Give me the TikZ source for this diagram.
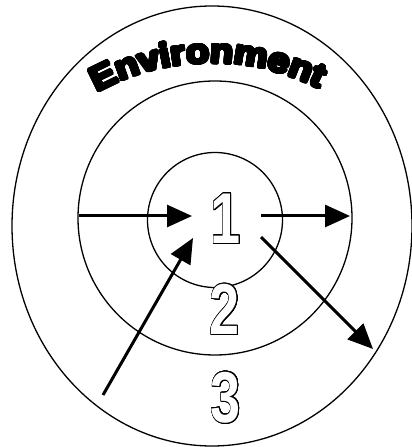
\documentclass[tikz,border=0pt]{standalone}
\usepackage{fontspec}
\usepackage[copies]{contour}
\usetikzlibrary{arrows.meta,decorations.text,shapes.geometric}
\newfontfamily\envfont{Liberation Sans Bold}
\newfontfamily\digfont{Liberation Sans Bold}
\contournumber{32}
\newcommand{\heavychar}[1]{\scalebox{1.12}[1]{\contourlength{1.5pt}\contour{black}{#1}}}
\newcommand{\outdigit}[1]{\scalebox{0.75}[1]{\contourlength{0.8pt}\contour{black}{\textcolor{white}{#1}}}}
\tikzset{
  ring/.style={draw=black, line width=1.3pt},
  flow/.style={line width=3pt, -{Triangle[length=25pt,width=22pt]}},
  digit/.style={inner sep=0pt, font=\digfont\fontsize{72}{72}\selectfont}
}
\begin{document}
\begin{tikzpicture}[x=1pt,y=1pt]
\useasboundingbox (0,0) rectangle (412,447);
\fill[white] (0,0) rectangle (412,447);
% rings
\node[ring, ellipse, minimum width=400pt, minimum height=440pt, inner sep=0pt] (outer) at (212,221) {};
\node[ring, circle, minimum size=274pt, inner sep=0pt] (mid) at (215,229) {};
\node[ring, circle, minimum size=135pt, inner sep=0pt] (inner) at (215,227) {};
% labels
\node[digit] (n1) at (226,228) {\outdigit{1}};
\node[digit] (n2) at (225,137) {\outdigit{2}};
\node[digit] (n3) at (226,49) {\outdigit{3}};
% curved title
\path[decorate, decoration={text effects along path, text={Environment},
  text effects/.cd, text along path, fit text to path,
  characters={inner sep=0pt, font=\envfont\fontsize{34}{34}\selectfont},
  character command=\heavychar}]
  (212,147) ++(119:237) arc[start angle=119, end angle=63, radius=237];
% arrow end points
\coordinate (a1s) at (79,231);
\coordinate (a1e) at (192,231);
\coordinate (a2s) at (261,231);
\coordinate (a2e) at (350,231);
\coordinate (a3s) at (103,52);
\coordinate (a3e) at (193,209);
\coordinate (a4s) at (261,210);
\coordinate (a4e) at (373,98);
\draw[flow] (a1s) -- (a1e);
\draw[flow] (a2s) -- (a2e);
\draw[flow] (a3s) -- (a3e);
\draw[flow] (a4s) -- (a4e);
\end{tikzpicture}
\end{document}
